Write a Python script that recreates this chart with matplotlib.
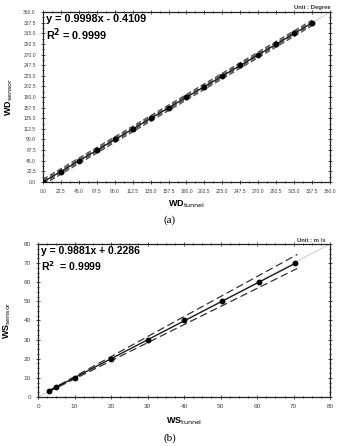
import numpy as np
import matplotlib
matplotlib.use("Agg")
import matplotlib.pyplot as plt
from matplotlib.ticker import MultipleLocator, FormatStrFormatter

# ---- data (a) wind direction ----
wd_tunnel = [0.0, 22.5, 45.0, 67.5, 90.0, 112.5, 135.0, 157.5, 180.0, 202.5,
             225.0, 247.5, 270.0, 292.5, 315.0, 337.5]
wd_sensor = [0.0, 22.0, 45.0, 67.0, 90.0, 112.0, 135.0, 157.0, 180.0, 202.0,
             225.0, 247.0, 270.0, 292.0, 315.0, 337.0]
wd_slope, wd_icpt = 0.9998, -0.4109
wd_band_inner = 3.0   # half-width of inner dashed band (deg)
wd_band_outer = 6.0   # half-width of outer dashed band (deg)

# ---- data (b) wind speed ----
ws_tunnel = [3.0, 5.0, 10.0, 20.0, 30.0, 40.0, 50.5, 60.5, 70.5]
ws_sensor = [3.0, 5.0, 10.0, 20.0, 30.0, 40.0, 50.0, 60.0, 70.0]
ws_slope, ws_icpt = 0.9881, 0.2286
ws_upper_end = [3.0, 71.0, 3.3, 74.5]   # x0, x1, y0, y1 of upper dashed band
ws_lower_end = [3.0, 71.0, 2.8, 67.2]   # x0, x1, y0, y1 of lower dashed band

fig = plt.figure(figsize=(3.4, 4.46), dpi=100)
fig.patch.set_facecolor("white")
sans = ["Arial", "Liberation Sans", "DejaVu Sans"]

def style(ax, tickfs):
    ax.tick_params(which="both", top=True, right=True, direction="inout",
                   labelsize=tickfs, width=0.6, colors="#333333")
    ax.tick_params(which="major", length=3)
    ax.tick_params(which="minor", length=1.5)
    for s in ax.spines.values():
        s.set_linewidth(0.9)
        s.set_color("#222222")
    for lab in ax.get_xticklabels() + ax.get_yticklabels():
        lab.set_family(sans)
        lab.set_color("#444444")

# ---------- (a) ----------
ax1 = fig.add_axes([0.126, 0.592, 0.845, 0.381])
x = np.array(wd_tunnel)
xf = np.array([0.0, 337.5])
ax1.plot([0, 360], [0, 360], color="#bbbbbb", lw=0.5, zorder=1)
for off in (wd_band_inner, -wd_band_inner, wd_band_outer, -wd_band_outer):
    ax1.plot(xf, wd_slope * xf + wd_icpt + off, color="#444444", lw=0.8,
             ls=(0, (5, 2.5)), zorder=2)
ax1.plot(xf, wd_slope * xf + wd_icpt, color="#111111", lw=0.9, zorder=3)
ax1.plot(x, wd_sensor, "o", color="black", ms=3.2, zorder=4)
ax1.set_xlim(0, 360)
ax1.set_ylim(0, 360)
ax1.xaxis.set_major_locator(MultipleLocator(22.5))
ax1.yaxis.set_major_locator(MultipleLocator(22.5))
ax1.xaxis.set_minor_locator(MultipleLocator(11.25))
ax1.yaxis.set_minor_locator(MultipleLocator(11.25))
ax1.xaxis.set_major_formatter(FormatStrFormatter("%.1f"))
ax1.yaxis.set_major_formatter(FormatStrFormatter("%.1f"))
style(ax1, 3.6)
ax1.text(0.01, 0.96, "y = 0.9998x - 0.4109", transform=ax1.transAxes,
         fontsize=7.8, fontweight="bold", family=sans, va="center", ha="left")
ax1.text(0.01, 0.865, "R$^{\\mathbf{2}}$ = 0.9999", transform=ax1.transAxes,
         fontsize=7.8, fontweight="bold", family=sans, va="center", ha="left")
ax1.text(1.0, 1.012, "Unit : Degree", transform=ax1.transAxes, fontsize=4.2,
         fontweight="bold", family=sans, ha="right", va="bottom", color="#333333")
ax1.set_xlabel("WD$_{\\mathrm{tunnel}}$", fontsize=6.5, fontweight="bold",
               family=sans, labelpad=3)
ax1.set_ylabel("WD$_{\\mathrm{sensor}}$", fontsize=6.5, fontweight="bold",
               family=sans, labelpad=6)
fig.text(0.5, 0.507, "(a)", ha="center", va="center", fontsize=8,
         family=["Liberation Serif", "DejaVu Serif"])

# ---------- (b) ----------
ax2 = fig.add_axes([0.112, 0.110, 0.859, 0.343])
ax2.plot([0, 80], [0, 80], color="#bbbbbb", lw=0.5, zorder=1)
ax2.plot(ws_upper_end[:2], ws_upper_end[2:], color="#333333", lw=0.9,
         ls=(0, (6, 3)), zorder=2)
ax2.plot(ws_lower_end[:2], ws_lower_end[2:], color="#333333", lw=0.9,
         ls=(0, (6, 3)), zorder=2)
xf2 = np.array([3.0, 70.5])
ax2.plot(xf2, ws_slope * xf2 + ws_icpt, color="#111111", lw=0.9, zorder=3)
ax2.plot(ws_tunnel, ws_sensor, "o", color="black", ms=3.2, zorder=4)
ax2.set_xlim(0, 80)
ax2.set_ylim(0, 80)
ax2.xaxis.set_major_locator(MultipleLocator(10))
ax2.yaxis.set_major_locator(MultipleLocator(10))
ax2.xaxis.set_minor_locator(MultipleLocator(2.5))
ax2.yaxis.set_minor_locator(MultipleLocator(2.5))
style(ax2, 4.6)
ax2.text(0.01, 0.955, "y = 0.9881x + 0.2286", transform=ax2.transAxes,
         fontsize=7.5, fontweight="bold", family=sans, va="center", ha="left")
ax2.text(0.01, 0.855, "R$^{\\mathbf{2}}$  = 0.9999", transform=ax2.transAxes,
         fontsize=7.5, fontweight="bold", family=sans, va="center", ha="left")
ax2.text(0.985, 1.005, "Unit : m /s", transform=ax2.transAxes, fontsize=4.2,
         fontweight="bold", family=sans, ha="right", va="bottom", color="#333333")
ax2.set_xlabel("WS$_{\\mathrm{tunnel}}$", fontsize=6.5, fontweight="bold",
               family=sans, labelpad=5)
ax2.set_ylabel("WS$_{\\mathrm{sensor}}$", fontsize=6.5, fontweight="bold",
               family=sans, labelpad=8)
fig.text(0.5, 0.018, "(b)", ha="center", va="center", fontsize=8,
         family=["Liberation Serif", "DejaVu Serif"])

fig.savefig("out.png", dpi=100, facecolor="white")
